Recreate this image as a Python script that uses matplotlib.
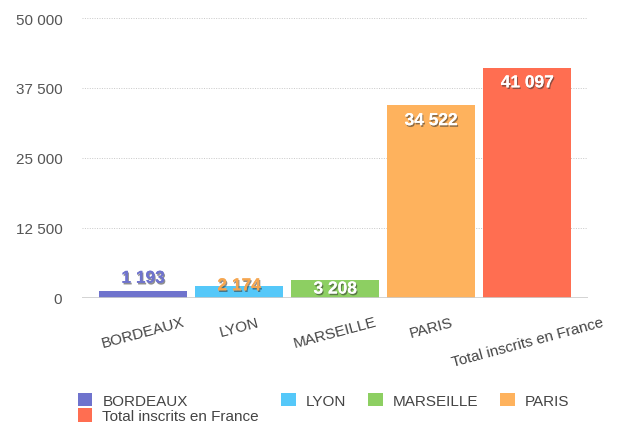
import matplotlib
matplotlib.use('Agg')
import matplotlib.pyplot as plt
import matplotlib.patheffects as pe
from matplotlib.patches import Patch
import numpy as np

plt.rcParams['font.family'] = ['Liberation Sans', 'DejaVu Sans']

cities = ['BORDEAUX', 'LYON', 'MARSEILLE', 'PARIS', 'Total inscrits en France']
inscrits = [1193, 2174, 3208, 34522, 41097]
yticks = [0, 12500, 25000, 37500, 50000]

colors = ['#6f73cd', '#55c8f9', '#8dcf62', '#feb25d', '#ff6e51']
label_colors = ['#6f73cd', '#f5a650', 'white', 'white', 'white']
label_offsets = [13, 0, -9, -16, -15]  # px, relative to bar top


def fmt(v):
    return f'{v:,}'.replace(',', ' ')


fig = plt.figure(figsize=(6.24, 4.27), dpi=100)
ax = fig.add_axes([0.131, 0.2998, 0.811, 0.6557])

x = np.arange(len(cities))
ax.bar(x, inscrits, width=0.92, color=colors, zorder=2)

ax.set_ylim(0, 50000)
ax.set_xlim(-0.64, 4.63)
ax.set_yticks(yticks)
ax.set_yticklabels([fmt(t) for t in yticks], color='#555555', fontsize=11)
ax.tick_params(axis='y', length=0, pad=14)
ax.tick_params(axis='x', length=0, pad=12)
ax.set_xticks(x)
ax.set_xticklabels(cities, rotation=15, ha='center', color='#444444', fontsize=11)

for s in ax.spines.values():
    s.set_visible(False)
for t in yticks[1:]:
    ax.axhline(t, color='#c8c8c8', linestyle=(0, (1, 1.5)), linewidth=0.7, zorder=1)
ax.axhline(0, color='#cccccc', linewidth=1.2, zorder=3)

shadow = [pe.withSimplePatchShadow(offset=(0.8, -1.2), shadow_rgbFace='#333333', alpha=0.55), pe.Normal()]
for xi, v, c, off in zip(x, inscrits, label_colors, label_offsets):
    ax.annotate(fmt(v), (xi, v), xytext=(0, off * 0.72), textcoords='offset points',
                ha='center', va='center', color=c, fontsize=12.5, fontweight='bold',
                path_effects=shadow, zorder=4)

handles = [Patch(facecolor=colors[i], label=cities[i]) for i in [0, 4, 1, 2, 3]]
fig.legend(handles=handles, ncol=4, loc='upper left', bbox_to_anchor=(0.115, 0.092),
           frameon=False, fontsize=11, handlelength=0.95, handleheight=0.95,
           handletextpad=0.65, columnspacing=1.45, labelspacing=0.05, borderaxespad=0,
           labelcolor='#444444')

fig.savefig('out.png', dpi=100)
